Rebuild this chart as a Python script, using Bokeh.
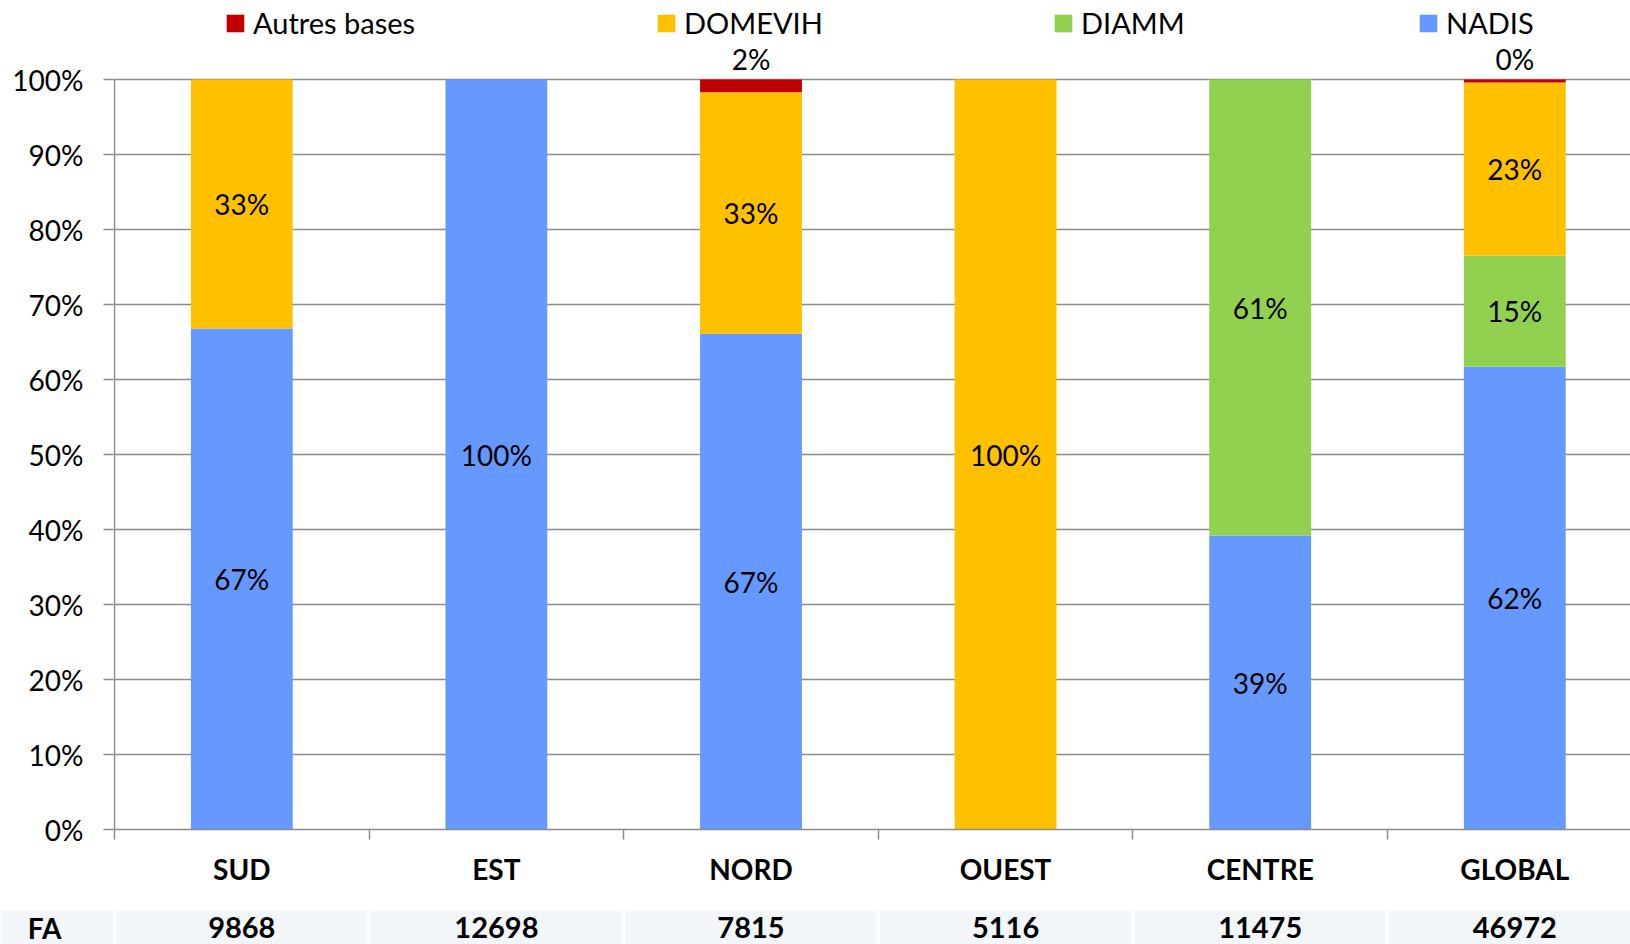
from bokeh.plotting import figure
from bokeh.models import (Range1d, FixedTicker, ColumnDataSource, Legend, LegendItem,
                          NumeralTickFormatter)
from bokeh.layouts import column
from bokeh.core.properties import value
from bokeh.embed import file_html
from bokeh.resources import INLINE

# ---------------- data ----------------
categories = ["SUD", "EST", "NORD", "OUEST", "CENTRE", "GLOBAL"]
fa_counts = [9868, 12698, 7815, 5116, 11475, 46972]
series_names = ["NADIS", "DIAMM", "DOMEVIH", "Autres bases"]
nadis = [66.8, 100.0, 66.1, 0.0, 39.2, 61.7]
diamm = [0.0, 0.0, 0.0, 0.0, 60.8, 14.8]
domevih = [33.2, 0.0, 32.2, 100.0, 0.0, 23.1]
autres = [0.0, 0.0, 1.7, 0.0, 0.0, 0.4]
nadis_labels = ["67%", "100%", "67%", "", "39%", "62%"]
diamm_labels = ["", "", "", "", "61%", "15%"]
domevih_labels = ["33%", "", "33%", "100%", "", "23%"]
autres_labels = ["", "", "2%", "", "", "0%"]
y_ticks = [0.0, 0.1, 0.2, 0.3, 0.4, 0.5, 0.6, 0.7, 0.8, 0.9, 1.0]
row_label = "FA"

colors = {"NADIS": "#6699FF", "DIAMM": "#92D050", "DOMEVIH": "#FFC000", "Autres bases": "#C00000"}
FONT = "Lato"
GRID = "#8C8C8C"
CELL = "#F2F6F9"

# ---------------- geometry ----------------
PX = 254.6          # pixels per category
W = 1630
H1 = 910
H2 = 34
LEFT = 113
BOTTOM = 81
frame_w = W - LEFT
frame_h = H1 - BOTTOM
x0 = -0.5 - 1.0 / PX
xr = Range1d(x0, x0 + frame_w / PX)
yr = Range1d(0, frame_h / 750.0)

xs = list(range(len(categories)))
vals = {"NADIS": nadis, "DIAMM": diamm, "DOMEVIH": domevih, "Autres bases": autres}
labs = {"NADIS": nadis_labels, "DIAMM": diamm_labels, "DOMEVIH": domevih_labels,
        "Autres bases": autres_labels}

p = figure(width=W, height=H1, x_range=xr, y_range=yr, output_backend="svg",
           toolbar_location=None, min_border_left=LEFT, min_border_right=0,
           min_border_top=0, min_border_bottom=BOTTOM, outline_line_color=None,
           background_fill_color="white", border_fill_color="white")

# gridlines
p.xgrid.visible = False
p.ygrid.ticker = FixedTicker(ticks=y_ticks)
p.ygrid.grid_line_color = GRID
p.ygrid.grid_line_width = 1.5

# y axis
p.yaxis.ticker = FixedTicker(ticks=y_ticks, minor_ticks=[])
p.yaxis.formatter = NumeralTickFormatter(format="0%")
p.yaxis.axis_line_color = None
p.yaxis.major_tick_line_color = GRID
p.yaxis.major_tick_line_width = 1.5
p.yaxis.major_tick_out = 10
p.yaxis.major_tick_in = 0
p.yaxis.minor_tick_line_color = None
p.yaxis.major_label_standoff = 20
p.yaxis.major_label_text_font = FONT
p.yaxis.major_label_text_font_size = "28px"
p.yaxis.major_label_text_color = "#000000"

# x axis
p.xaxis.ticker = FixedTicker(ticks=xs, minor_ticks=[x - 0.5 for x in xs] + [xs[-1] + 0.5])
p.xaxis.major_label_overrides = {i: c for i, c in enumerate(categories)}
p.xaxis.axis_line_color = GRID
p.xaxis.axis_line_width = 1.5
p.xaxis.major_tick_line_color = None
p.xaxis.major_tick_out = 0
p.xaxis.major_tick_in = 0
p.xaxis.minor_tick_line_color = GRID
p.xaxis.minor_tick_line_width = 1.5
p.xaxis.minor_tick_out = 10
p.xaxis.minor_tick_in = 0
p.xaxis.major_label_standoff = 12
p.xaxis.major_label_text_font = FONT
p.xaxis.major_label_text_font_style = "bold"
p.xaxis.major_label_text_font_size = "28px"
p.xaxis.major_label_text_color = "#000000"

# vertical axis line from 0% to 100%
p.segment(x0=[-0.5], y0=[0], x1=[-0.5], y1=[1.0], line_color=GRID, line_width=1.5)

# stacked bars
bottoms = [0.0] * len(categories)
renderers = {}
label_x, label_y, label_t = [], [], []
top_x, top_y, top_t = [], [], []
for name in series_names:
    v = [a / 100.0 for a in vals[name]]
    tops = [b + a for b, a in zip(bottoms, v)]
    src = ColumnDataSource(dict(x=xs, bottom=bottoms, top=tops))
    r = p.vbar(x="x", bottom="bottom", top="top", width=0.4, source=src,
               fill_color=colors[name], line_color=None)
    renderers[name] = r
    for i, t in enumerate(labs[name]):
        if not t:
            continue
        if name == "Autres bases":
            top_x.append(xs[i]); top_y.append(tops[i]); top_t.append(t)
        else:
            label_x.append(xs[i]); label_y.append((bottoms[i] + tops[i]) / 2); label_t.append(t)
    bottoms = tops

p.text(x=label_x, y=label_y, text=label_t, text_align="center", text_baseline="middle",
       text_font=value(FONT), text_font_size="28px", text_color="#000000")
p.text(x=top_x, y=top_y, text=top_t, text_align="center", text_baseline="middle",
       y_offset=-21, text_font=value(FONT), text_font_size="28px", text_color="#000000")

# legend: separate items at fixed positions
legend_order = ["Autres bases", "DOMEVIH", "DIAMM", "NADIS"]
legend_x = [226, 657, 1054, 1419]
for name, lx in zip(legend_order, legend_x):
    lg = Legend(items=[LegendItem(label=name, renderers=[renderers[name]])],
                location=(lx - LEFT - 2, frame_h - 40), orientation="horizontal",
                glyph_width=22, glyph_height=22, label_standoff=7,
                label_text_font=FONT, label_text_font_size="29px", label_text_color="#000000",
                padding=0, margin=0, spacing=0, border_line_color=None,
                background_fill_alpha=0)
    p.add_layout(lg, "center")

# ---------------- FA row ----------------
p2 = figure(width=W, height=H2, x_range=xr, y_range=Range1d(-0.06, 2),
            output_backend="svg", toolbar_location=None, x_axis_location=None,
            min_border_left=LEFT, min_border_right=0, min_border_top=0, min_border_bottom=0,
            outline_line_color=None, background_fill_color="white", border_fill_color=CELL)
p2.grid.visible = False
p2.yaxis.ticker = FixedTicker(ticks=[1], minor_ticks=[])
p2.yaxis.major_label_overrides = {1: row_label}
p2.yaxis.axis_line_color = None
p2.yaxis.major_tick_line_color = None
p2.yaxis.major_tick_out = 0
p2.yaxis.major_tick_in = 0
p2.yaxis.major_label_standoff = 52
p2.yaxis.major_label_text_font = FONT
p2.yaxis.major_label_text_font_style = "bold"
p2.yaxis.major_label_text_font_size = "28px"
p2.yaxis.major_label_text_color = "#000000"

p2.quad(left=[x - 0.5 for x in xs], right=[x + 0.5 for x in xs], bottom=-1, top=3,
        fill_color=CELL, line_color="white", line_width=3)
p2.text(x=xs, y=[1] * len(xs), text=[str(c) for c in fa_counts], text_align="center",
        text_baseline="middle", text_font=value(FONT), text_font_style="bold",
        text_font_size="29px", text_color="#000000")

layout = column(p, p2, spacing=0)
open("out.html", "w").write(file_html(layout, INLINE))
